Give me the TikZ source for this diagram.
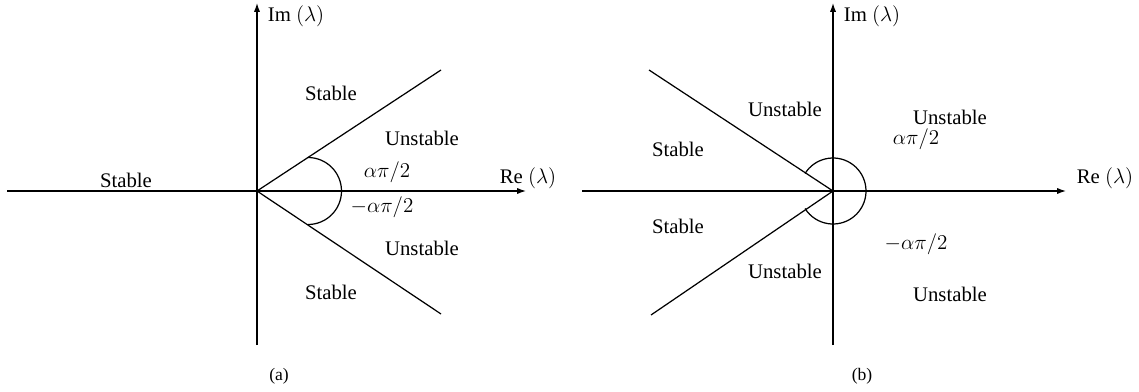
\documentclass[tikz,border=0pt]{standalone}
\usepackage{amsmath, amssymb}
\usepackage{fontspec}
\setmainfont{Liberation Serif}
\usetikzlibrary{arrows.meta, calc}

\begin{document}
\begin{tikzpicture}[x=0.02cm,y=-0.02cm]
          \tikzstyle{axis}=[draw,line width=.7pt,-{Latex[length=5pt,width=3.5pt]}]
          \tikzstyle{ray}=[draw,line width=.7pt]
          \tikzstyle{lbl}=[inner sep=0pt,font=\fontsize{11.8}{13}\selectfont]
          \tikzstyle{sublbl}=[inner sep=0pt,font=\fontsize{10}{12}\selectfont]
          \useasboundingbox (0,0) rectangle (1139,392);
          % (a)
          \coordinate (oa) at (257,191);
          \coordinate (wa) at (7,191);
          \coordinate (ea) at (526,191);
          \coordinate (sa) at (257,345);
          \coordinate (na) at (257,3);
          \coordinate (ua) at (441,70);
          \coordinate (da) at (441,314);
          \coordinate (ta) at (308,157.5);
          \draw[axis] (wa) -- (ea);
          \draw[axis] (sa) -- (na);
          \draw[ray] (ua) -- (oa) -- (da);
          \draw[ray] (ta) arc[start angle=-90,end angle=90,radius=33.5];
          \node[lbl] (ima) at (296,16) {Im $(\lambda)$};
          \node[lbl] (rea) at (528,178) {Re $(\lambda)$};
          \node[lbl] (sa1) at (331,93) {Stable};
          \node[lbl] (ua1) at (422,138) {Unstable};
          \node[lbl] (sa2) at (126,180) {Stable};
          \node[lbl] (pa1) at (387,172) {$\alpha\pi/2$};
          \node[lbl] (pa2) at (382,207) {$-\alpha\pi/2$};
          \node[lbl] (ua2) at (422,248) {Unstable};
          \node[lbl] (sa3) at (331,292) {Stable};
          \node[sublbl] (capa) at (279,376) {(a)};
          % (b)
          \coordinate (ob) at (833,191);
          \coordinate (wb) at (582,191);
          \coordinate (eb) at (1066,191);
          \coordinate (sb) at (833,345);
          \coordinate (nb) at (833,3);
          \coordinate (ub) at (649,70);
          \coordinate (db) at (651,315);
          \draw[axis] (wb) -- (eb);
          \draw[axis] (sb) -- (nb);
          \draw[ray] (ub) -- (ob) -- (db);
          \draw[ray] ($(ob)+(-148:33)$) arc[start angle=-148,end angle=148,radius=33];
          \node[lbl] (imb) at (872,16) {Im $(\lambda)$};
          \node[lbl] (reb) at (1105,178) {Re $(\lambda)$};
          \node[lbl] (ub1) at (785,109) {Unstable};
          \node[lbl] (ub2) at (950,117) {Unstable};
          \node[lbl] (pb1) at (916,139) {$\alpha\pi/2$};
          \node[lbl] (sb1) at (678,149) {Stable};
          \node[lbl] (sb2) at (678,226) {Stable};
          \node[lbl] (pb2) at (916,244) {$-\alpha\pi/2$};
          \node[lbl] (ub3) at (785,271) {Unstable};
          \node[lbl] (ub4) at (950,294) {Unstable};
          \node[sublbl] (capb) at (862,376) {(b)};
        \end{tikzpicture}
\end{document}
